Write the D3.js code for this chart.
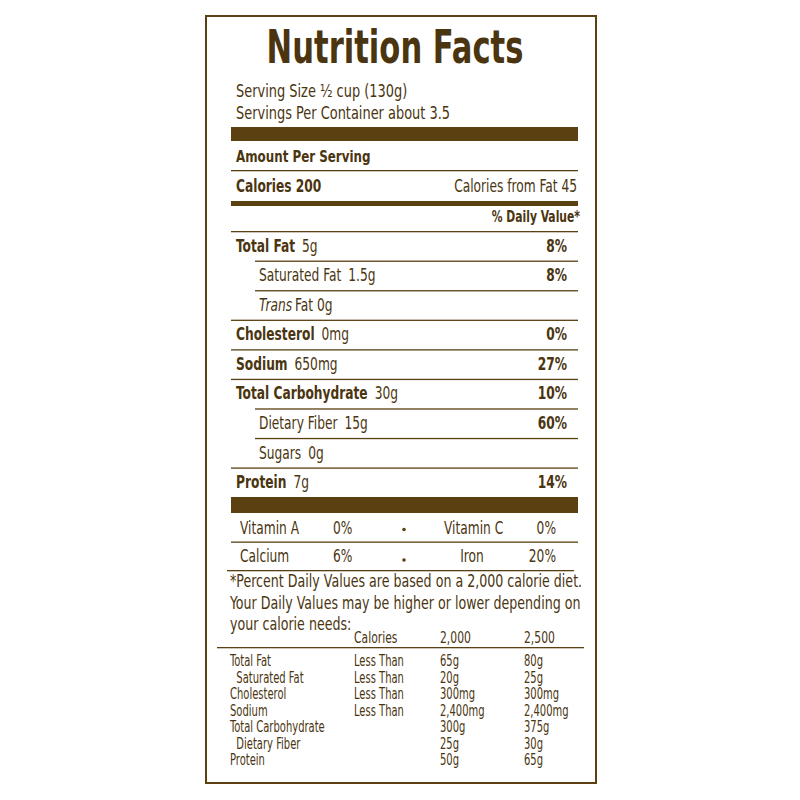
<!DOCTYPE html>
<html><head><meta charset="utf-8">
<script src="https://cdnjs.cloudflare.com/ajax/libs/d3/7.8.5/d3.min.js"></script>
<style>body{margin:0;background:#fff}text{font-family:"DejaVu Sans Condensed","DejaVu Sans",sans-serif;fill:#4a3510}</style>
</head><body><svg id="c" width="800" height="800"></svg>
<script>
const brown = "#5b4012"
// main nutrients: label, amount, dv, indent
const nutrients = [
  ["Total Fat", "5g", "8%", 0],
  ["Saturated Fat", "1.5g", "8%", 1],
  ["Trans Fat", "0g", "", 1],
  ["Cholesterol", "0mg", "0%", 0],
  ["Sodium", "650mg", "27%", 0],
  ["Total Carbohydrate", "30g", "10%", 0],
  ["Dietary Fiber", "15g", "60%", 1],
  ["Sugars", "0g", "", 1],
  ["Protein", "7g", "14%", 0]
]
const vitamins = [["Vitamin A", "0%", "Vitamin C", "0%"], ["Calcium", "6%", "Iron", "20%"]]
const footnote = ["*Percent Daily Values are based on a 2,000 calorie diet.",
  "Your Daily Values may be higher or lower depending on", "your calorie needs:"]
const tableHead = ["Calories", "2,000", "2,500"]
const table = [
  ["Total Fat", "Less Than", "65g", "80g"],
  [" Saturated Fat", "Less Than", "20g", "25g"],
  ["Cholesterol", "Less Than", "300mg", "300mg"],
  ["Sodium", "Less Than", "2,400mg", "2,400mg"],
  ["Total Carbohydrate", "", "300g", "375g"],
  [" Dietary  Fiber", "", "25g", "30g"],
  ["Protein", "", "50g", "65g"]
]

const svg = d3.select("#c")
const L = 231, R = 578
svg.append("rect").attr("x", 206).attr("y", 16).attr("width", 390).attr("height", 767)
  .attr("fill", "none").attr("stroke", brown).attr("stroke-width", 2)
// condensed look: squeeze text horizontally
const t = (x, y, s, size, o = {}) => {
  const sx = o.sx || 0.8
  const el = svg.append("g").attr("transform", `translate(${x},${y}) scale(${sx},1)`)
    .append("text").text(s).attr("font-size", size)
    .attr("font-weight", o.b ? "bold" : null)
    .attr("text-anchor", o.a || "start").attr("font-style", o.i ? "italic" : null)
  el.w = () => el.node().getComputedTextLength() * sx
  return el
}
const bar = (y, h, x1 = L, x2 = R) => svg.append("rect").attr("x", x1).attr("y", y)
  .attr("width", x2 - x1).attr("height", h).attr("fill", brown)

t(395, 63, "Nutrition Facts", 46, {b: 1, a: "middle", sx: 0.74})
t(236, 97, "Serving Size  ½ cup (130g)", 18)
t(236, 119, "Servings Per Container about  3.5", 18)
bar(127, 14)
t(236, 162, "Amount Per Serving", 16.5, {b: 1})
bar(170, 1.3)
t(236, 192, "Calories 200", 17, {b: 1})
t(577, 192, "Calories from Fat  45", 17, {a: "end"})
bar(201, 5)
t(580, 222, "% Daily Value*", 15, {b: 1, a: "end"})
bar(231, 1.3)

const y = d3.scaleBand().domain(d3.range(nutrients.length)).range([231, 497])
nutrients.forEach((d, i) => {
  const yb = y(i) + y.bandwidth() * 0.7, x = d[3] ? 259 : 236
  if (d[0] === "Trans Fat") {
    const a = t(x, yb, "Trans", 17, {i: 1})
    t(x + a.w() + 3, yb, "Fat  " + d[1], 17)
  } else {
    const lab = t(x, yb, d[0], 17, {b: !d[3]})
    t(x + lab.w() + 7, yb, d[1], 17)
  }
  if (d[2]) t(567, yb, d[2], 17, {b: 1, a: "end"})
  if (i < nutrients.length - 1) {
    const sub = nutrients[i + 1][3]
    bar(y(i + 1), 1.3, sub ? 255 : L)
  }
})
bar(497, 16)

const vy = d3.scaleBand().domain([0, 1]).range([513, 570])
vitamins.forEach((d, i) => {
  const yb = vy(i) + vy.bandwidth() * 0.72
  t(240, yb, d[0], 17); t(333, yb, d[1], 17)
  svg.append("circle").attr("cx", 404).attr("cy", yb - 4 + i * 2).attr("r", 1.8).attr("fill", brown)
  t(i ? 472 : 444, yb, d[2], 17, {a: i ? "middle" : "start"}); t(556, yb, d[3], 17, {a: "end"})
  bar(vy(i) + vy.bandwidth(), 1.3, i ? 227 : L, i ? R - 4 : R)
})
footnote.forEach((s, i) => t(230, 587 + i * 21.5, s, 18.5, {sx: 0.76}))

const cx = [354, 440, 524]
tableHead.forEach((s, i) => t(cx[i], 643, s, 15))
bar(647, 1.3, 217, 584)
const ty = d3.scaleLinear().domain([0, 1]).range([666, 682.5])
table.forEach((r, i) => {
  t(230, ty(i), r[0].startsWith(" ") ? "\u00a0" + r[0] : r[0], 15, {sx: 0.74})
  r.slice(1).forEach((s, j) => t(cx[j], ty(i), s, 15, {sx: 0.74}))
})
</script></body></html>
